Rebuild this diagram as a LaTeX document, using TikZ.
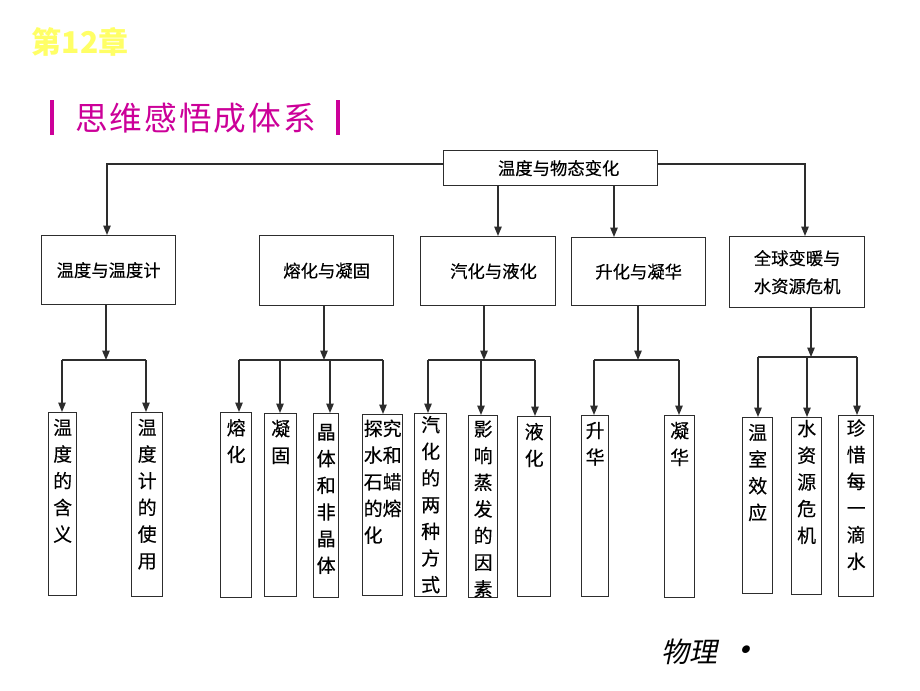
\documentclass[tikz,border=0pt]{standalone}
\usepackage{fontspec}
\newfontfamily\cjk[FakeBold=0.3]{Noto Sans CJK SC}
\newfontfamily\cjkplain{Noto Sans CJK SC}
\newfontfamily\cjkit[FakeSlant=0.2]{Noto Sans CJK SC}
\newfontfamily\cjkls[LetterSpace=6]{Noto Sans CJK SC}
\usetikzlibrary{arrows.meta}
\definecolor{ttlyellow}{RGB}{255,255,102}
\definecolor{magen}{RGB}{204,0,153}
\definecolor{ln}{RGB}{45,45,45}
\tikzset{
  box/.style={draw=ln, line width=1pt, inner sep=0pt, anchor=north west, align=center,
              font=\cjk\fontsize{13}{21}\selectfont},
  leaf/.style={draw=ln, line width=1pt, inner sep=0pt, anchor=north west},
  leaftext/.style={anchor=north, align=center, inner sep=0pt,
              font=\cjk\fontsize{14.2}{20}\selectfont},
  conn/.style={draw=ln, line width=1pt},
  arr/.style={conn, -{Triangle[length=7pt,width=5.5pt]}},
}
\begin{document}
\begin{tikzpicture}[x=0.75pt, y=-0.75pt]
\useasboundingbox[fill=white] (0,0) rectangle (920,690);

% titles
\node[anchor=center, inner sep=0pt, text=ttlyellow, font=\cjkplain\bfseries\fontsize{22.5}{26}\selectfont] (chap) at (80,42) {第12章};
\fill[magen] (50,100) rectangle (54,135);
\fill[magen] (336,100) rectangle (340,135);
\node[anchor=center, inner sep=0pt, text=magen, font=\cjkls\fontsize{24.5}{28}\selectfont] (sect) at (195.5,118.5) {思维感悟成体系};
\node[anchor=center, inner sep=0pt, font=\cjkit\fontsize{21}{24}\selectfont] (foot) at (712,652) {物理\hspace{6pt}\raisebox{-0.5pt}{\scalebox{1.3}{•}}};

% top box
\node[box, minimum width=160.5pt, minimum height=26.25pt] (top) at (443,150) {\hspace*{12pt}温度与物态变化};

% level 2
\node[box, minimum width=100.5pt, minimum height=51.75pt] (A) at (41,235) {温度与温度计};
\node[box, minimum width=100.5pt, minimum height=52.5pt] (B) at (259,235) {熔化与凝固};
\node[box, minimum width=101.25pt, minimum height=51.75pt] (C) at (420,236) {\hspace*{8pt}汽化与液化};
\node[box, minimum width=100.5pt, minimum height=51pt] (D) at (571,237) {升化与凝华};
\node[box, minimum width=101.25pt, minimum height=53.25pt] (E) at (729,236) {全球变暖与\\水资源危机};

% leaves
\node[leaf, minimum width=21pt,    minimum height=137.25pt] (L1)  at (48,412) {};
\node[leaf, minimum width=23.25pt, minimum height=138pt]    (L2)  at (131,412) {};
\node[leaf, minimum width=23.25pt, minimum height=138.75pt] (L3)  at (220,412) {};
\node[leaf, minimum width=24pt,    minimum height=137.25pt] (L4)  at (264,413) {};
\node[leaf, minimum width=18.75pt, minimum height=138pt]    (L5)  at (313,413) {};
\node[leaf, minimum width=30pt,    minimum height=135.75pt] (L6)  at (362,414) {};
\node[leaf, minimum width=24pt,    minimum height=137.25pt] (L7)  at (414,413) {};
\node[leaf, minimum width=21.75pt, minimum height=136.5pt]  (L8)  at (468,415) {};
\node[leaf, minimum width=24.75pt, minimum height=135pt]    (L9)  at (517,416) {};
\node[leaf, minimum width=20.25pt, minimum height=135.75pt] (L10) at (581,415) {};
\node[leaf, minimum width=22.5pt,  minimum height=136.5pt]  (L11) at (664,415) {};
\node[leaf, minimum width=22.5pt,  minimum height=132pt]    (L12) at (742,417) {};
\node[leaf, minimum width=22.5pt,  minimum height=132.75pt] (L13) at (791,417) {};
\node[leaf, minimum width=26.25pt, minimum height=135.75pt] (L14) at (838,415) {};

% leaf texts
\node[leaftext] (T1)  at ([yshift=-5pt]L1.north)  {温\\度\\的\\含\\义};
\node[leaftext] (T2)  at ([yshift=-5pt]L2.north)  {温\\度\\计\\的\\使\\用};
\node[leaftext] (T3)  at ([yshift=-5pt]L3.north)  {熔\\化};
\node[leaftext] (T4)  at ([yshift=-5pt]L4.north)  {凝\\固};
\node[leaftext] (T5)  at ([yshift=-8pt]L5.north)  {晶\\体\\和\\非\\晶\\体};
\node[leaftext, align=left] (T6)  at ([yshift=-4pt]L6.north)  {探究\\水和\\石蜡\\的熔\\化};
\node[leaftext] (T7)  at ([yshift=-2pt]L7.north)  {汽\\化\\的\\两\\种\\方\\式};
\node[leaftext] (T8)  at ([yshift=-4pt]L8.north)  {影\\响\\蒸\\发\\的\\因\\素};
\node[leaftext] (T9)  at ([yshift=-5pt]L9.north)  {液\\化};
\node[leaftext] (T10) at ([yshift=-5pt]L10.north) {升\\华};
\node[leaftext] (T11) at ([yshift=-5pt]L11.north) {凝\\华};
\node[leaftext] (T12) at ([yshift=-5pt]L12.north) {温\\室\\效\\应};
\node[leaftext] (T13) at ([yshift=-2pt]L13.north) {水\\资\\源\\危\\机};
\node[leaftext] (T14) at ([yshift=-3pt]L14.north) {珍\\惜\\每\\一\\滴\\水};

% top-level connectors
\coordinate (tA) at (107,164);
\coordinate (tE) at (805,164);
\coordinate (tC) at (498,0);
\coordinate (tD) at (614,0);
\draw[arr] (top.west |- tA) -- (tA) -- (tA |- A.north);
\draw[arr] (top.east |- tE) -- (tE) -- (tE |- E.north);
\draw[arr] (top.south -| tC) -- (tC |- C.north);
\draw[arr] (top.south -| tD) -- (tD |- D.north);

% group A
\coordinate (a0) at (106,360);
\coordinate (a1) at (62,360);
\coordinate (a2) at (146,360);
\draw[arr] (A.south -| a0) -- (a0);
\draw[conn] (a1) -- (a2);
\draw[arr] (a1) -- (a1 |- L1.north);
\draw[arr] (a2) -- (a2 |- L2.north);

% group B
\coordinate (b0) at (324,360);
\coordinate (b1) at (239,360);
\coordinate (b2) at (280,360);
\coordinate (b3) at (330,360);
\coordinate (b4) at (383,360);
\draw[arr] (B.south -| b0) -- (b0);
\draw[conn] (b1) -- (b4);
\draw[arr] (b1) -- (b1 |- L3.north);
\draw[arr] (b2) -- (b2 |- L4.north);
\draw[arr] (b3) -- (b3 |- L5.north);
\draw[arr] (b4) -- (b4 |- L6.north);

% group C
\coordinate (c0) at (484,360);
\coordinate (c1) at (428,360);
\coordinate (c2) at (481,360);
\coordinate (c3) at (535,360);
\draw[arr] (C.south -| c0) -- (c0);
\draw[conn] (c1) -- (c3);
\draw[arr] (c1) -- (c1 |- L7.north);
\draw[arr] (c2) -- (c2 |- L8.north);
\draw[arr] (c3) -- (c3 |- L9.north);

% group D
\coordinate (d0) at (638,360);
\coordinate (d1) at (594,360);
\coordinate (d2) at (679,360);
\draw[arr] (D.south -| d0) -- (d0);
\draw[conn] (d1) -- (d2);
\draw[arr] (d1) -- (d1 |- L10.north);
\draw[arr] (d2) -- (d2 |- L11.north);

% group E
\coordinate (e0) at (811,357);
\coordinate (e1) at (758,357);
\coordinate (e2) at (807,357);
\coordinate (e3) at (857,357);
\draw[arr] (E.south -| e0) -- (e0);
\draw[conn] (e1) -- (e3);
\draw[arr] (e1) -- (e1 |- L12.north);
\draw[arr] (e2) -- (e2 |- L13.north);
\draw[arr] (e3) -- (e3 |- L14.north);
\end{tikzpicture}
\end{document}
